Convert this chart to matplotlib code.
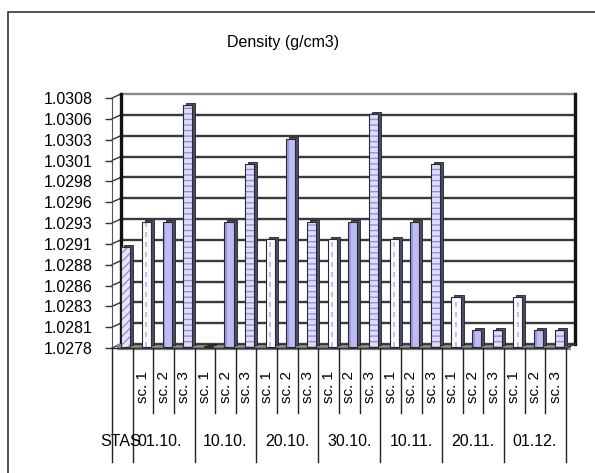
import matplotlib
matplotlib.use("Agg")
import matplotlib.pyplot as plt
import matplotlib.transforms as mtransforms
from matplotlib.patches import Rectangle
import numpy as np

plt.rcParams["font.family"] = ["Liberation Sans", "DejaVu Sans"]

# data
groups = ["STAS", "01.10.", "10.10.", "20.10.", "30.10.", "10.11.", "20.11.", "01.12."]
group_sizes = [1, 3, 3, 3, 3, 3, 3, 3]
sub_labels = [""] + ["sc. 1", "sc. 2", "sc. 3"] * 7
series_kind = ["stas"] + ["sc1", "sc2", "sc3"] * 7
density = [1.0290,
           1.0293, 1.0293, 1.0307,
           1.02781, 1.0293, 1.0300,
           1.0291, 1.0303, 1.0293,
           1.0291, 1.0293, 1.0306,
           1.0291, 1.0293, 1.0300,
           1.0284, 1.0280, 1.0280,
           1.0284, 1.0280, 1.0280]
y_tick_labels = ["1.0278", "1.0281", "1.0283", "1.0286", "1.0288", "1.0291", "1.0293",
                 "1.0296", "1.0298", "1.0301", "1.0303", "1.0306", "1.0308"]

YMIN, YMAX = 1.0278, 1.0308
n = len(density)

fig = plt.figure(figsize=(5.95, 4.73), dpi=100)
ax = fig.add_axes([112 / 595, 1 - 348 / 473, 454 / 595, 250 / 473])
ax.set_xlim(0, n)
ax.set_ylim(YMIN, YMAX)
for s in ax.spines.values():
    s.set_visible(False)
ax.set_xticks([])
yticks = np.linspace(YMIN, YMAX, len(y_tick_labels))
ax.set_yticks(yticks)
ax.set_yticklabels(y_tick_labels, fontsize=11.5)
ax.tick_params(axis="y", length=5, width=1, color="#333333", pad=9)


def shift(px_x, px_y):
    return ax.transData + mtransforms.ScaledTranslation(px_x / 100, px_y / 100, fig.dpi_scale_trans)


DX, DY = 9, 4
wall = shift(DX, DY)

# back wall gridlines
for i, yv in enumerate(yticks):
    col = "#888888" if i == len(yticks) - 1 else "#3a3a3a"
    ax.plot([0, n], [yv, yv], transform=wall, color=col, lw=1.7, clip_on=False, zorder=1)
    ax.annotate("", xy=(0, yv), xytext=(DX * 0.72, DY * 0.72), textcoords="offset points",
                arrowprops=dict(arrowstyle="-", color="#333333", lw=1, shrinkA=0, shrinkB=0),
                annotation_clip=False, zorder=1)
# side and right walls
ax.plot([0, 0], [YMIN, YMAX], transform=wall, color="#111111", lw=2.4, clip_on=False, zorder=1)
ax.plot([n, n], [YMIN, YMAX], transform=wall, color="#111111", lw=2.4, clip_on=False, zorder=1)
ax.plot([0, 0], [YMIN, YMAX], color="#555555", lw=0.8, clip_on=False, zorder=1)

# floor
ax.plot([0, n], [YMIN, YMIN], transform=shift(DX / 2, DY / 2 - 1), color="#8a8a8a",
        lw=4.5, solid_capstyle="butt", clip_on=False, zorder=2)
ax.plot([0, n], [YMIN, YMIN], transform=shift(DX, DY), color="#333333", lw=0.8, clip_on=False, zorder=2)
ax.plot([0, n], [YMIN, YMIN], color="#333333", lw=1, clip_on=False, zorder=2)
ax.annotate("", xy=(n, YMIN), xytext=(DX * 0.72, DY * 0.72), textcoords="offset points",
            arrowprops=dict(arrowstyle="-", color="#333333", lw=1.2, shrinkA=0, shrinkB=0),
            annotation_clip=False)

# bars
x = np.arange(n) + 0.5
heights = np.array(density) - YMIN
front = shift(3.5, 1)
back = shift(6.5, 3)
W = 0.44
face = {"stas": "#e6e6fa", "sc1": "#fafaff", "sc2": "#bcbcf2", "sc3": "#dedefa"}
hatch = {"stas": "////", "sc1": None, "sc2": None, "sc3": "---"}
for xi, h, kind in zip(x, heights, series_kind):
    ax.bar(xi, h, W, bottom=YMIN, transform=back, color="#4b4b6e", edgecolor="#222222",
           lw=0.6, clip_on=False, zorder=3)
    ax.bar(xi, h, W, bottom=YMIN, transform=front, color=face[kind], edgecolor="#9090e0",
           lw=0, hatch=hatch[kind], clip_on=False, zorder=4)
    if kind == "sc1":
        ax.vlines(xi, YMIN, YMIN + h, transform=front, colors="#b4b4f0", lw=1.2,
                  linestyles=(0, (3, 3)), clip_on=False, zorder=5)
    if kind == "sc2":
        ax.vlines(xi - W * 0.3, YMIN, YMIN + h, transform=front, colors="#9898e6", lw=1.4,
                  clip_on=False, zorder=5)
    ax.bar(xi, h, W, bottom=YMIN, transform=front, fill=False, edgecolor="#2a2a2a",
           lw=0.8, clip_on=False, zorder=6)

# category labels
blend = mtransforms.blended_transform_factory(ax.transData, ax.transAxes)
for xi, lab in zip(x, sub_labels):
    if lab:
        ax.text(xi, -0.155, lab, rotation=90, ha="center", va="center", fontsize=11,
                transform=blend)
bounds = np.concatenate([[0], np.cumsum(group_sizes)])
for b in range(n + 1):
    long = b in bounds
    ax.plot([b, b], [0, -0.455 if long else -0.26], transform=blend, color="#222222",
            lw=1, clip_on=False)
for g, lab in enumerate(groups):
    cx = (bounds[g] + bounds[g + 1]) / 2
    if g == 0:
        cx -= 0.1
    if g == 1:
        cx -= 0.2
    ax.text(cx, -0.375, lab, ha="center", va="center", fontsize=11.5, transform=blend)

# chart frame and title
fig.patches.append(Rectangle((8 / 595, -0.5), 2, 0.5 + 1 - 12 / 473, transform=fig.transFigure,
                             fill=False, edgecolor="#333333", lw=1.2))
fig.text(283 / 595, 1 - 42 / 473, "Density (g/cm3)", ha="center", va="center", fontsize=11.5)

fig.savefig("out.png", dpi=100)
